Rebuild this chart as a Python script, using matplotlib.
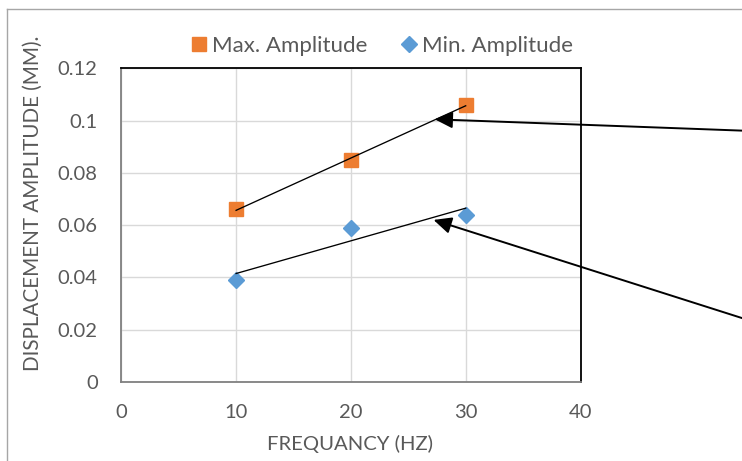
import matplotlib
matplotlib.use("Agg")
import matplotlib.pyplot as plt
import numpy as np
from matplotlib.lines import Line2D

# Data
freq = [10, 20, 30]
max_amp = [0.066, 0.085, 0.106]
min_amp = [0.039, 0.059, 0.064]
x_ticks = [0, 10, 20, 30, 40]
y_ticks = [0, 0.02, 0.04, 0.06, 0.08, 0.1, 0.12]
y_tick_labels = ["0", "0.02", "0.04", "0.06", "0.08", "0.1", "0.12"]
series_names = ["Max. Amplitude", "Min. Amplitude"]

ORANGE = "#ED7D31"
BLUE = "#5B9BD5"
TXT = "#595959"
FONT = "Lato"

plt.rcParams['font.family'] = [FONT, 'DejaVu Sans']

W, H = 742, 461
fig = plt.figure(figsize=(W / 100, H / 100), dpi=100)
fig.patch.set_facecolor("white")

# outer chart border (left and top visible)
fig.add_artist(Line2D([6.7 / W, 6.7 / W], [0, 1 - 9 / H], transform=fig.transFigure,
                      color="#A6A6A6", lw=1.0))
fig.add_artist(Line2D([6.7 / W, 1.0], [1 - 9 / H, 1 - 9 / H], transform=fig.transFigure,
                      color="#A6A6A6", lw=1.0))

left, right, top, bottom = 121.3, 580.5, 68.3, 382.0
ax = fig.add_axes([left / W, 1 - bottom / H, (right - left) / W, (bottom - top) / H])

ax.set_xlim(0, 40)
ax.set_ylim(0, 0.12)
ax.set_xticks(x_ticks)
ax.set_yticks(y_ticks)
ax.set_yticklabels(y_tick_labels)
ax.grid(True, color="#D9D9D9", lw=1.0)
ax.set_axisbelow(True)
ax.tick_params(length=0, labelsize=14.5, labelcolor=TXT)
ax.tick_params(axis='y', pad=17)
ax.tick_params(axis='x', pad=16)

for s in ["left", "bottom"]:
    ax.spines[s].set_color("#808080")
    ax.spines[s].set_linewidth(1.3)
for s in ["top", "right"]:
    ax.spines[s].set_color("black")
    ax.spines[s].set_linewidth(1.3)

ax.plot(freq, max_amp, linestyle="none", marker="s", markersize=10,
        color=ORANGE, zorder=3)
ax.plot(freq, min_amp, linestyle="none", marker="D", markersize=8.5,
        color=BLUE, zorder=3)

# linear trendlines from data
for ys in (max_amp, min_amp):
    k, b = np.polyfit(freq, ys, 1)
    xs = np.array([freq[0], freq[-1]])
    ax.plot(xs, k * xs + b, color="black", lw=0.95, zorder=4)

# arrows coming from off-chart
arrow_kw = dict(arrowstyle="-|>,head_length=0.6,head_width=0.28", color="black",
                lw=1.4, shrinkA=0, shrinkB=0, mutation_scale=18)
ax.annotate("", xy=(27.3, 0.1005), xycoords="data",
            xytext=(W + 2, H - 130.7), textcoords="figure pixels",
            arrowprops=arrow_kw, annotation_clip=False, zorder=5)
ax.annotate("", xy=(27.2, 0.062), xycoords="data",
            xytext=(W + 2, H - 318.7), textcoords="figure pixels",
            arrowprops=arrow_kw, annotation_clip=False, zorder=5)

# legend
handles = [
    Line2D([], [], linestyle="none", marker="s", markersize=10, color=ORANGE),
    Line2D([], [], linestyle="none", marker="D", markersize=8.5, color=BLUE),
]
fig.legend(handles, series_names, loc="center", ncol=2,
           bbox_to_anchor=(382 / W, 1 - 46 / H), frameon=False,
           fontsize=16, labelcolor=TXT, handlelength=0.7, handletextpad=0.25,
           columnspacing=1.5, borderpad=0)

# axis titles
fig.text(33 / W, 1 - 203.5 / H, "DISPLACEMENT AMPLITUDE (MM).", rotation=90,
         ha="center", va="center", fontsize=14.9, color=TXT)
fig.text(350 / W, 1 - 444 / H, "FREQUANCY (HZ)", ha="center", va="center",
         fontsize=14.6, color=TXT)

fig.savefig("out.png", dpi=100)
